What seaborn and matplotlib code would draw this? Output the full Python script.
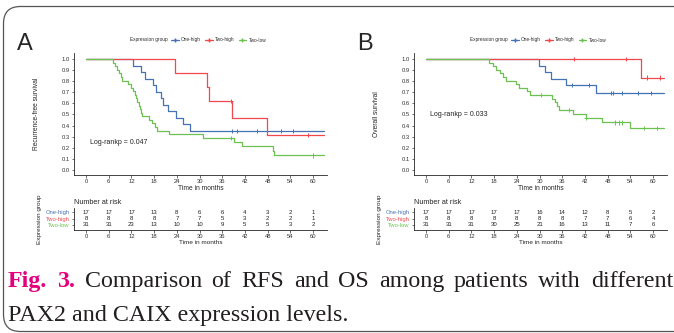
import numpy as np
import pandas as pd
import seaborn as sns
import matplotlib.pyplot as plt
from matplotlib.lines import Line2D
from matplotlib.patches import FancyBboxPatch

# Data -------------------------------------------------------------------------

groups = ["One-high", "Two-high", "Two-low"]
colors = ["#4571B5", "#F2474B", "#6CC250"]
risk_times = list(range(0, 61, 6))
end_time = 63

# A: recurrence-free survival
a_one_t = [12.5, 14.5, 15.7, 17.8, 18.6, 19.8, 20.4, 21.7, 23.7, 25.7, 27.5]
a_one_s = [0.941, 0.882, 0.824, 0.765, 0.706, 0.647, 0.588, 0.529, 0.471, 0.412, 0.353]
a_one_cens = [38.7, 40.0, 45.3, 51.6, 54.7]
a_high_t = [23.5, 32.0, 32.5, 38.6, 47.8]
a_high_s = [0.875, 0.75, 0.625, 0.469, 0.3125]
a_high_cens = [38.3, 58.7]
a_low_t = [7.2, 7.6, 8.2, 8.8, 9.3, 9.6, 11.2, 11.8, 12.3, 12.8, 13.2, 13.5, 13.9,
           14.2, 14.6, 14.9, 16.5, 17.3, 18.2, 18.8, 22.0, 31.0, 39.2, 41.2, 49.3, 49.7]
a_low_s = [0.968, 0.935, 0.903, 0.871, 0.839, 0.806, 0.774, 0.742, 0.710, 0.677, 0.645,
           0.613, 0.581, 0.548, 0.516, 0.484, 0.452, 0.419, 0.387, 0.355, 0.323, 0.290,
           0.254, 0.218, 0.174, 0.131]
a_low_cens = [38.3, 60.0]
a_risk_one = [17, 17, 17, 13, 8, 6, 6, 4, 3, 2, 1]
a_risk_high = [8, 8, 8, 8, 7, 7, 5, 3, 2, 2, 1]
a_risk_low = [31, 31, 23, 13, 10, 10, 9, 5, 5, 3, 2]

# B: overall survival
b_one_t = [29.9, 31.4, 33.0, 37.1, 44.9]
b_one_s = [0.941, 0.882, 0.824, 0.765, 0.695]
b_one_cens = [38.7, 43.1, 48.9, 49.3, 51.8, 56.1, 59.6]
b_high_t = [56.7]
b_high_s = [0.833]
b_high_cens = [39.1, 52.8, 58.4, 61.9]
b_low_t = [16.6, 17.6, 18.6, 19.5, 20.4, 21.0, 23.9, 24.6, 26.6, 27.6, 33.3, 34.0,
           34.7, 35.1, 38.9, 42.2, 46.5, 53.8]
b_low_s = [0.968, 0.935, 0.903, 0.871, 0.839, 0.806, 0.774, 0.742, 0.710, 0.677, 0.643,
           0.609, 0.576, 0.542, 0.506, 0.467, 0.428, 0.375]
b_low_cens = [30.3, 37.7, 42.4, 49.9, 50.9, 51.9, 57.5, 61.0]
b_risk_one = [17, 17, 17, 17, 17, 16, 14, 12, 8, 5, 2]
b_risk_high = [8, 8, 8, 8, 8, 8, 8, 7, 7, 6, 4]
b_risk_low = [31, 31, 31, 30, 25, 21, 16, 13, 11, 7, 6]

caption_1 = ["Fig.", "3.", "Comparison", "of", "RFS", "and", "OS", "among", "patients", "with", "different"]
caption_2 = "PAX2 and CAIX expression levels."

# Style ------------------------------------------------------------------------

sns.set_theme(style = "ticks")
plt.rcParams["font.family"] = ["Liberation Sans", "DejaVu Sans"]
plt.rcParams["axes.linewidth"] = 0.6

W, H = 674, 333
fig = plt.figure(figsize = (W / 100, H / 100), dpi = 100)
fig.patch.set_facecolor("white")

def px_axes(l, t, r, b):
  return fig.add_axes([l / W, 1 - b / H, (r - l) / W, (b - t) / H])

def curve_frame(curves):
  rows = []
  for g, (t, s) in zip(groups, curves):
    tt = [0] + t + [end_time]
    ss = [1.0] + s + [s[-1]]
    rows.append(pd.DataFrame({"time": tt, "surv": ss, "group": g}))
  return pd.concat(rows, ignore_index = True)

def cens_frame(curves, cens):
  rows = []
  for g, (t, s), c in zip(groups, curves, cens):
    tt = np.array([0] + t)
    ss = np.array([1.0] + s)
    idx = np.searchsorted(tt, c, side = "right") - 1
    rows.append(pd.DataFrame({"time": c, "surv": ss[idx], "group": g}))
  return pd.concat(rows, ignore_index = True)

pal = dict(zip(groups, colors))
tick_kw = dict(labelsize = 4.2, length = 1.8, width = 0.5, pad = 1.2, colors = "#333333")

def km_panel(x0, curves, cens, ylabel, pval, letter, risk):
  ax = px_axes(x0, 53, x0 + 253, 175)
  sns.lineplot(data = curve_frame(curves), x = "time", y = "surv", hue = "group", palette = pal,
               drawstyle = "steps-post", estimator = None, sort = False, legend = False,
               linewidth = 0.9, ax = ax)
  sns.scatterplot(data = cens_frame(curves, cens), x = "time", y = "surv", hue = "group",
                  palette = pal, marker = "+", s = 9, linewidth = 0.7, legend = False, ax = ax)
  ax.set_xlim(-3.2, 63.7)
  ax.set_ylim(-0.045, 1.054)
  ax.set_xticks(risk_times)
  ax.set_yticks(np.round(np.arange(0, 1.01, 0.1), 1))
  ax.set_yticklabels([f"{v:.1f}" for v in np.arange(0, 1.01, 0.1)])
  ax.tick_params(**tick_kw)
  ax.set_xlabel("Time in months", fontsize = 4.8, labelpad = 0.5)
  ax.set_ylabel(ylabel, fontsize = 4.8)
  ax.yaxis.set_label_coords(-0.134, 0.5)
  ax.text(1.0, pval[1], pval[0], fontsize = 5, va = "center", color = "#222222")
  sns.despine(ax = ax)

  # legend on top
  fig.text((x0 - 74 + 130) / W, 1 - 40 / H, "Expression group", fontsize = 3.4, va = "center")
  handles = [Line2D([0], [0], color = c, lw = 0.9, marker = "+", markersize = 3) for c in colors]
  fig.legend(handles, groups, loc = "center left", bbox_to_anchor = ((x0 - 74 + 171) / W, 1 - 40 / H),
             ncol = 3, frameon = False, fontsize = 3.4, handlelength = 1.6, handletextpad = 0.5,
             columnspacing = 0.9, borderpad = 0, borderaxespad = 0)

  fig.text((x0 - 74 + 17) / W, 1 - 50 / H, letter, fontsize = 17, va = "baseline")

  # risk table
  rt = px_axes(x0, 208, x0 + 253, 230)
  rt.set_xlim(-3.2, 63.7)
  rt.set_ylim(0.2, 3.7)
  for y, counts in zip([3, 2, 1], risk):
    for t, n in zip(risk_times, counts):
      rt.text(t, y, str(n), ha = "center", va = "center", fontsize = 4.3, color = "#222222")
  rt.set_xticks(risk_times)
  rt.set_yticks([3, 2, 1])
  rt.set_yticklabels(groups)
  rt.tick_params(**tick_kw)
  for lab, c in zip(rt.get_yticklabels(), colors):
    lab.set_color(c)
  rt.set_xlabel("Time in months", fontsize = 4.6, labelpad = 0.5)
  rt.set_ylabel("Expression group", fontsize = 4.6)
  rt.yaxis.set_label_coords(-0.126, 0.5)
  rt.text(0, 1.27, "Number at risk", transform = rt.transAxes, fontsize = 5.2, va = "center")
  sns.despine(ax = rt)

# Panels -----------------------------------------------------------------------

km_panel(74, [(a_one_t, a_one_s), (a_high_t, a_high_s), (a_low_t, a_low_s)],
         [a_one_cens, a_high_cens, a_low_cens], "Recurrence-free survival",
         ("Log-rankp = 0.047", 0.25), "A", [a_risk_one, a_risk_high, a_risk_low])
km_panel(414, [(b_one_t, b_one_s), (b_high_t, b_high_s), (b_low_t, b_low_s)],
         [b_one_cens, b_high_cens, b_low_cens], "Overall survival",
         ("Log-rankp = 0.033", 0.50), "B", [b_risk_one, b_risk_high, b_risk_low])

# Border and caption -----------------------------------------------------------

fig.add_artist(FancyBboxPatch((3.5, 1.5), 720, 325, boxstyle = "round,pad=0,rounding_size=17",
                              transform = None, fill = False, edgecolor = "#555555", linewidth = 0.9))

serif = ["Liberation Serif", "DejaVu Serif"]
words = []
for i, w in enumerate(caption_1):
  bold = i < 2
  words.append(fig.text(0, 1 - 287 / H, w, fontsize = 17.3, family = serif, va = "baseline",
                        color = "#E5007D" if bold else "#231F20",
                        fontweight = "bold" if bold else "normal"))
fig.text(8 / W, 1 - 321 / H, caption_2, fontsize = 17.3, family = serif, va = "baseline", color = "#231F20")

fig.canvas.draw()
renderer = fig.canvas.get_renderer()
widths = [t.get_window_extent(renderer).width for t in words]
gap = (673 - 8 - sum(widths)) / (len(words) - 1)
x = 8
for t, w in zip(words, widths):
  t.set_x(x / W)
  x += w + gap

fig.savefig("out.png", dpi = 100)
